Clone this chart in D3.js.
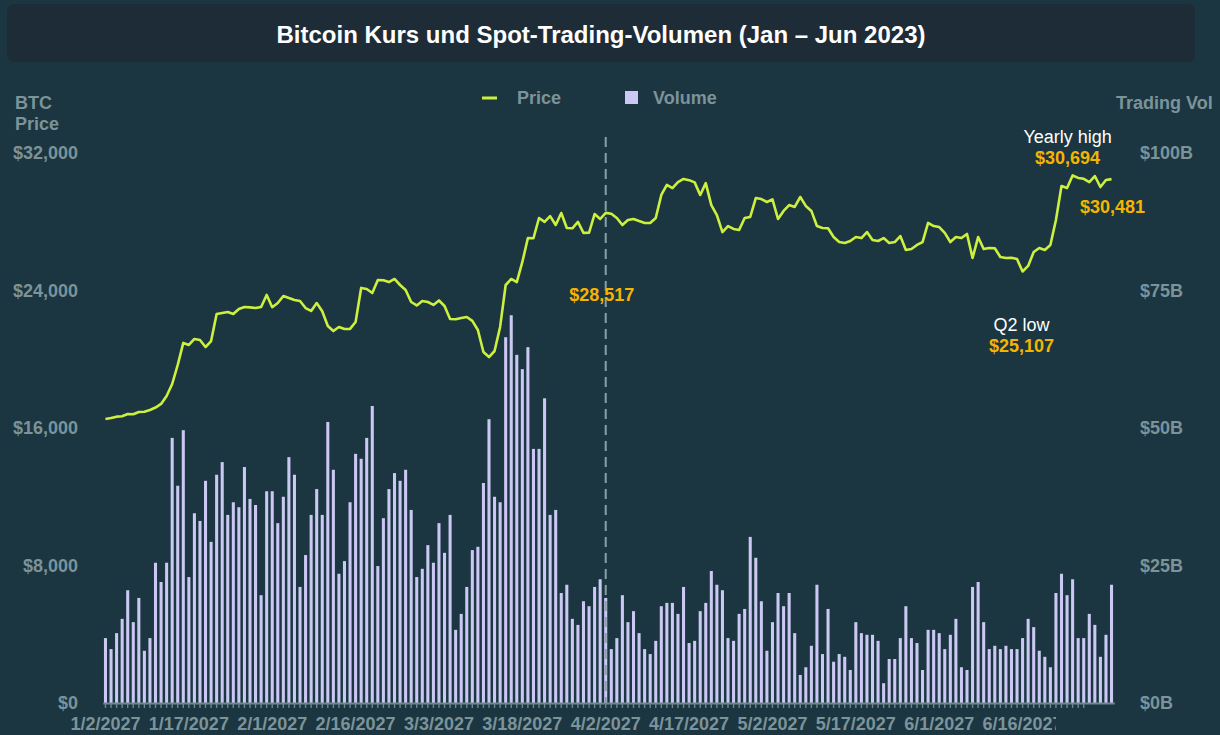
<!DOCTYPE html>
<html>
<head>
<meta charset="utf-8">
<script src="https://cdn.jsdelivr.net/npm/d3@7"></script>
<style>
  body { margin: 0; background: #1b3641; }
  svg { display: block; font-family: "Liberation Sans", Arial, sans-serif; }
</style>
</head>
<body>
<svg id="chart" width="1220" height="735"></svg>
<script>
// daily categories, Jan 2 onward (one per bar)
const startDate = new Date(2027, 0, 2);
const dayCount = 182;
const labelEvery = 15;

// BTC closing price, USD
const priceData = [
  16520,16580,16660,16680,16810,16800,16930,16945,17050,17190,
  17400,17860,18560,19670,20950,20830,21180,21120,20710,21060,
  22630,22690,22750,22630,22920,23040,23020,22980,23040,23740,
  23030,23270,23680,23560,23450,23390,22980,22810,23270,22790,
  21930,21640,21880,21760,21770,22170,24150,24090,23850,24610,
  24600,24490,24670,24320,24030,23330,23130,23390,23330,23160,
  23420,23100,22340,22330,22400,22460,22230,21700,20420,20130,
  20480,21880,24320,24670,24490,25660,27050,27040,28220,27990,
  28330,27810,28510,27640,27620,27990,27350,27360,28450,28160,
  28517,28470,28220,27810,28100,28160,28040,27930,27930,28220,
  29560,30140,29960,30310,30490,30420,30290,29560,30250,28970,
  28390,27400,27750,27580,27520,28220,28280,29380,29320,29150,
  29300,28160,28630,28970,28860,29440,28920,28630,27750,27640,
  27620,27110,26820,26760,26880,27110,27050,27400,26940,26880,
  27050,26760,26820,27170,26360,26410,26650,26820,27930,27750,
  27690,27350,26820,27110,27050,27290,25890,27110,26410,26470,
  26460,25950,25890,25900,25830,25107,25430,26240,26470,26360,
  26650,28100,30080,29960,30694,30550,30500,30310,30660,30020,
  30430,30481
];

// spot trading volume, billions USD
const volumeData = [
  11.8,9.8,12.7,15.3,20.5,14.7,19.1,9.5,11.8,25.5,
  22,25.5,48.2,39.5,49.6,22.9,34.5,33.1,40.4,29.3,
  41.5,43.8,34.2,36.5,35.6,42.9,37.1,36,19.6,38.5,
  38.5,32.7,37.5,44.7,41.5,21.1,26.9,34.2,38.9,34.2,
  51.1,42.4,23.5,25.8,36.5,45.3,44.4,48.2,54,24.9,
  33.6,38.9,41.8,40.4,42.4,35.1,22.9,24.4,28.7,25.5,
  32.7,27.3,34.2,13.3,16.2,21.1,27.8,28.4,40,51.6,
  37.5,36.5,66.5,70.5,63.3,60.7,64.7,46.2,46.2,55.4,
  34.2,35.1,20,21.5,15.3,14.2,18.5,17.6,21.1,22.5,
  19.1,9.8,11.8,19.6,14.7,16.7,12.7,9.8,8.9,11.3,
  17.6,18.2,18.2,16.2,21.1,10.9,11.3,16.7,18.2,24,
  21.5,20.5,11.8,11.3,16.2,17.1,30.2,26.4,18.5,9.5,
  14.7,20,17.6,20,12.7,5.1,6.5,10.4,21.5,8.9,
  17.1,7.5,8.9,8.4,6,14.7,12.7,12.4,12.4,11.3,
  3.6,8,8,11.8,17.6,11.8,10.9,6,13.3,13.3,
  12.7,9.8,12.4,15.3,6.5,6,21.1,22,14.7,9.8,
  10.4,9.8,10.4,9.8,9.8,11.8,15.3,13.8,9.5,8.4,
  6.5,20,23.5,19.6,22.5,11.8,11.8,16.2,14.2,8.4,
  12.4,21.5
];

const priceTicks = [0, 8000, 16000, 24000, 32000];
const volumeTicks = [0, 25, 50, 75, 100];

// annotations placed relative to the price point of their day
const annotations = [
  { idx: 90, label: null, value: "$28,517", dx: -4, dy: 88 },
  { idx: 174, label: "Yearly high", value: "$30,694", dx: -5, dy: -11 },
  { idx: 181, label: null, value: "$30,481", dx: 1, dy: 34 },
  { idx: 165, label: "Q2 low", value: "$25,107", dx: -1, dy: 60 }
];
const markerIdx = 90;

const colors = {
  bg: "#1b3641",
  titleBox: "#1e2c37",
  axisText: "#7b9399",
  price: "#cdf03f",
  volume: "#ccc8f4",
  accent: "#f5b400"
};

const dates = d3.range(dayCount).map(i => d3.timeDay.offset(startDate, i));
const fmtDate = d3.timeFormat("%-m/%-d/%Y");
const rows = dates.map((d, i) => ({ i, date: d, price: priceData[i], volume: volumeData[i] }));

const svg = d3.select("#chart");
svg.append("rect").attr("width", 1220).attr("height", 735).attr("fill", colors.bg);

// title bar
svg.append("rect")
  .attr("x", 7).attr("y", 4).attr("width", 1188).attr("height", 58).attr("rx", 7)
  .attr("fill", colors.titleBox);
svg.append("text")
  .attr("x", 601).attr("y", 43)
  .attr("text-anchor", "middle")
  .attr("fill", "#ffffff")
  .attr("font-size", 24).attr("font-weight", "bold")
  .text("Bitcoin Kurs und Spot-Trading-Volumen (Jan \u2013 Jun 2023)");

const x = d3.scaleBand()
  .domain(d3.range(dayCount))
  .range([102.7, 1114.3])
  .paddingInner(0.45)
  .paddingOuter(0.225);
const xc = i => x(i) + x.bandwidth() / 2;

const yPrice = d3.scaleLinear().domain([0, 32000]).range([703, 153]);
const yVol = d3.scaleLinear().domain([0, 100]).range([703, 153]);

// volume bars
svg.append("g").selectAll("rect")
  .data(rows)
  .join("rect")
  .attr("x", d => x(d.i))
  .attr("y", d => yVol(d.volume))
  .attr("width", x.bandwidth())
  .attr("height", d => yVol(0) - yVol(d.volume))
  .attr("fill", colors.volume);

// marker line at Apr 2
svg.append("line")
  .attr("x1", xc(markerIdx)).attr("x2", xc(markerIdx))
  .attr("y1", 137).attr("y2", 703)
  .attr("stroke", "#8aa0a6").attr("stroke-width", 2)
  .attr("stroke-dasharray", "10,6");

// price line
const line = d3.line().x(d => xc(d.i)).y(d => yPrice(d.price));
svg.append("path")
  .datum(rows)
  .attr("fill", "none")
  .attr("stroke", colors.price)
  .attr("stroke-width", 2.6)
  .attr("stroke-linejoin", "round")
  .attr("d", line);

// y axes (text only)
const leftAxis = svg.append("g")
  .attr("transform", "translate(86,0)")
  .call(d3.axisLeft(yPrice).tickValues(priceTicks).tickSize(0).tickPadding(8)
    .tickFormat(d => "$" + d3.format(",")(d)));
const rightAxis = svg.append("g")
  .attr("transform", "translate(1132,0)")
  .call(d3.axisRight(yVol).tickValues(volumeTicks).tickSize(0).tickPadding(8)
    .tickFormat(d => "$" + d + "B"));
[leftAxis, rightAxis].forEach(g => {
  g.select(".domain").remove();
  g.selectAll("text")
    .attr("fill", colors.axisText)
    .attr("font-size", 18).attr("font-weight", "bold")
    .attr("font-family", "Liberation Sans, Arial, sans-serif");
});

// x axis: a tick for every day, a label every 15 days
svg.append("defs").append("clipPath").attr("id", "xclip")
  .append("rect").attr("x", 0).attr("y", -10).attr("width", 1056).attr("height", 50);

const xAxis = svg.append("g")
  .attr("transform", "translate(0,703)")
  .call(d3.axisBottom(x)
    .tickValues(d3.range(0, 177))
    .tickSize(5).tickSizeOuter(0).tickPadding(9)
    .tickFormat(i => i % labelEvery === 0 ? fmtDate(dates[i]) : ""));
xAxis.select(".domain").attr("stroke", "#6f878e").attr("stroke-width", 2);
xAxis.selectAll(".tick line").attr("stroke", "#6f878e").attr("stroke-width", 1.4);

// pull the labels into one clipped group so the last one gets cut off
const labelWrap = xAxis.append("g").attr("clip-path", "url(#xclip)");
xAxis.selectAll(".tick").each(function(i) {
  const t = d3.select(this).select("text");
  t.attr("x", xc(i))
    .attr("fill", colors.axisText)
    .attr("font-size", 18).attr("font-weight", "bold")
    .attr("font-family", "Liberation Sans, Arial, sans-serif");
  labelWrap.node().appendChild(t.node());
});

// axis titles
const axisTitle = (tx, ty, t, anchor) => svg.append("text")
  .attr("x", tx).attr("y", ty)
  .attr("text-anchor", anchor || "start")
  .attr("fill", colors.axisText)
  .attr("font-size", 18).attr("font-weight", "bold")
  .text(t);
axisTitle(15, 109, "BTC");
axisTitle(15, 130, "Price");
axisTitle(1116, 109, "Trading Vol");

// legend
const legend = svg.append("g");
legend.append("line")
  .attr("x1", 482).attr("x2", 497).attr("y1", 98).attr("y2", 98)
  .attr("stroke", colors.price).attr("stroke-width", 3);
legend.append("text").attr("x", 517).attr("y", 104)
  .attr("fill", colors.axisText).attr("font-size", 18).attr("font-weight", "bold")
  .text("Price");
legend.append("rect")
  .attr("x", 625).attr("y", 91).attr("width", 13).attr("height", 13)
  .attr("fill", colors.volume);
legend.append("text").attr("x", 653).attr("y", 104)
  .attr("fill", colors.axisText).attr("font-size", 18).attr("font-weight", "bold")
  .text("Volume");

// annotations
annotations.forEach(a => {
  const ax = xc(a.idx) + a.dx;
  const ay = yPrice(priceData[a.idx]) + a.dy;
  const g = svg.append("g").attr("text-anchor", "middle");
  g.append("text")
    .attr("x", ax).attr("y", a.dy < 0 ? ay : ay + (a.label ? 21 : 0))
    .attr("fill", colors.accent).attr("font-size", 18).attr("font-weight", "bold")
    .text(a.value);
  if (a.label) {
    g.append("text")
      .attr("x", ax).attr("y", a.dy < 0 ? ay - 21 : ay)
      .attr("fill", "#ffffff").attr("font-size", 18)
      .text(a.label);
  }
});
</script>
</body>
</html>
